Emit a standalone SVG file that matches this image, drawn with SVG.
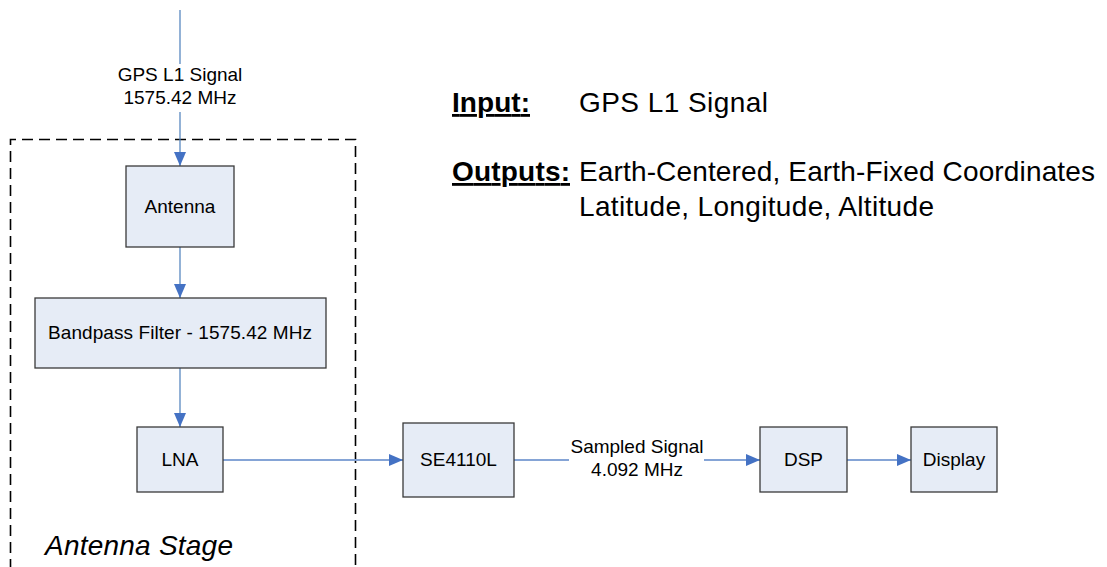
<svg xmlns="http://www.w3.org/2000/svg" width="1107" height="567" viewBox="0 0 1107 567">
<defs>
<style>
.box{fill:#E6ECF6;stroke:#3A3A3A;stroke-width:1.3}
.t{font-family:"Liberation Sans",Arial,sans-serif;font-size:19px;fill:#000;text-anchor:middle}
.lbl{font-family:"Liberation Sans",Arial,sans-serif;font-size:19px;fill:#000;text-anchor:middle}
.v{stroke:#4A7EBB;stroke-width:1.2;fill:none}
.h{stroke:#85A4D6;stroke-width:1.8;fill:none}
.big{font-family:"Liberation Sans",Arial,sans-serif;font-size:28px;fill:#000}
.hd{font-weight:bold;text-decoration:underline}
.dash{stroke:#000;stroke-width:1.6;stroke-dasharray:11 6;fill:none}
</style>
<marker id="ah" markerWidth="14" markerHeight="12" refX="14" refY="6" orient="auto" markerUnits="userSpaceOnUse">
<path d="M0,0 L14,6 L0,12 Z" fill="#4472C4"/>
</marker>
</defs>
<rect width="1107" height="567" fill="#fff"/>
<g id="antenna-stage">
<path class="dash" d="M10.5,570 V139.5 H355.5 V570"/>
<text x="45" y="555" class="big" font-style="italic" textLength="188">Antenna Stage</text>
</g>
<g id="connectors">
<line class="v" x1="180" y1="10" x2="180" y2="64"/>
<line class="v" x1="180" y1="112" x2="180" y2="166" marker-end="url(#ah)"/>
<line class="v" x1="180" y1="247" x2="180" y2="298" marker-end="url(#ah)"/>
<line class="v" x1="180" y1="368" x2="180" y2="427" marker-end="url(#ah)"/>
<line class="h" x1="223" y1="460" x2="403" y2="460" marker-end="url(#ah)"/>
<line class="h" x1="514" y1="460" x2="569" y2="460"/>
<line class="h" x1="704" y1="460" x2="760" y2="460" marker-end="url(#ah)"/>
<line class="h" x1="847" y1="460" x2="911" y2="460" marker-end="url(#ah)"/>
<text class="lbl" x="180" y="81">GPS L1 Signal</text>
<text class="lbl" x="180" y="104">1575.42 MHz</text>
<text class="lbl" x="637" y="453">Sampled Signal</text>
<text class="lbl" x="637" y="476">4.092 MHz</text>
</g>
<g id="antenna">
<rect class="box" x="126" y="166" width="108" height="81"/>
<text class="t" x="180" y="213">Antenna</text>
</g>
<g id="bandpass">
<rect class="box" x="35" y="298" width="291" height="70"/>
<text class="t" x="180" y="339" textLength="264">Bandpass Filter - 1575.42 MHz</text>
</g>
<g id="lna">
<rect class="box" x="137" y="427" width="86" height="65"/>
<text class="t" x="180" y="466">LNA</text>
</g>
<g id="se4110l">
<rect class="box" x="403" y="423" width="111" height="74"/>
<text class="t" x="458.5" y="466">SE4110L</text>
</g>
<g id="dsp">
<rect class="box" x="760" y="427" width="87" height="65"/>
<text class="t" x="803.5" y="466">DSP</text>
</g>
<g id="display">
<rect class="box" x="911" y="427" width="86" height="65"/>
<text class="t" x="954" y="466">Display</text>
</g>
<g id="io-text">
<text class="big hd" x="452" y="112" textLength="78">Input:</text>
<text class="big" x="579" y="112" textLength="189">GPS L1 Signal</text>
<text class="big hd" x="452" y="181" textLength="118">Outputs:</text>
<text class="big" x="579" y="181" textLength="516">Earth-Centered, Earth-Fixed Coordinates</text>
<text class="big" x="579" y="216" textLength="355">Latitude, Longitude, Altitude</text>
</g>
</svg>
